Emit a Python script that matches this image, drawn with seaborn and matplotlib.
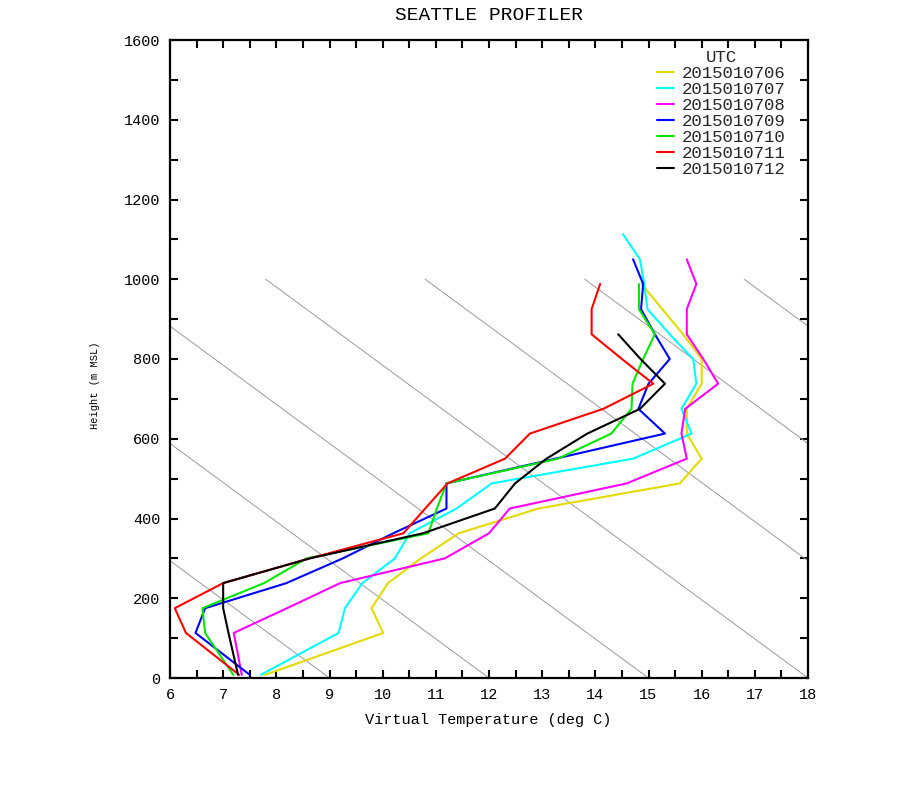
import numpy as np
import pandas as pd
import matplotlib
matplotlib.use("Agg")
import matplotlib.pyplot as plt
import seaborn as sns
from matplotlib.ticker import MultipleLocator

# ---- data ----
heights = [8, 113, 175, 238, 300, 363, 425, 488, 550, 613, 675, 738, 800,
           862, 925, 988, 1050, 1113]

utc_labels = ["2015010706", "2015010707", "2015010708", "2015010709",
              "2015010710", "2015010711", "2015010712"]

temp_06 = [7.79, 10.01, 9.79, 10.1, 10.72, 11.43, 12.93, 15.59, 16.0, 15.72,
           15.72, 16.0, 16.0, 15.65, 15.26, 14.87]
temp_07 = [7.71, 9.17, 9.29, 9.62, 10.23, 10.51, 11.39, 12.05, 14.71, 15.81,
           15.62, 15.9, 15.84, 15.4, 14.98, 14.92, 14.84, 14.52]
temp_08 = [7.35, 7.2, 8.2, 9.2, 11.17, 12.0, 12.39, 14.59, 15.72, 15.62,
           15.69, 16.31, 16.03, 15.72, 15.72, 15.9, 15.72]
temp_09 = [7.5, 6.48, 6.66, 8.19, 9.25, 10.2, 11.2, 11.2, 13.25, 15.31,
           14.81, 15.0, 15.4, 15.12, 14.86, 14.9, 14.71]
temp_10 = [7.19, 6.66, 6.61, 7.77, 8.57, 10.86, 11.02, 11.2, 13.3, 14.3,
           14.68, 14.7, 14.9, 15.12, 14.82, 14.82]
temp_11 = [7.3, 6.3, 6.09, 7.0, 8.63, 10.39, 10.8, 11.22, 12.3, 12.77,
           14.15, 15.09, 14.5, 13.93, 13.93, 14.09]
temp_12 = [7.28, 7.1, 7.0, 7.0, 8.63, 10.76, 12.11, 12.49, 13.08, 13.85,
           14.84, 15.31, 14.85, 14.43]

series_colors = ["#e3da00", "#00ffff", "#ff00ff", "#0000ff", "#00e600",
                 "#ff0000", "#000000"]

# background dry-adiabat guide lines
adiabat_T0 = [9, 12, 15, 18, 21, 24, 27]
adiabat_lapse = 10.2      # deg C per km
adiabat_top = 1000        # m

x_ticks = list(range(6, 19))
y_ticks = list(range(0, 1601, 200))

# ---- build long-form table ----
all_series = [temp_06, temp_07, temp_08, temp_09, temp_10, temp_11, temp_12]
rows = []
for lab, temps in zip(utc_labels, all_series):
    for z, t in zip(heights, temps):
        rows.append((lab, t, z))
df = pd.DataFrame(rows, columns=["utc", "temp", "height"])

sns.set_theme(style="ticks")
plt.rcParams["font.family"] = ["Liberation Mono", "DejaVu Sans Mono"]

fig = plt.figure(figsize=(9, 8), dpi=100)
fig.patch.set_facecolor("white")
ax = fig.add_axes([170 / 900, 122 / 800, 638 / 900, 638 / 800])

z_ad = np.array([0.0, adiabat_top])
for t0 in adiabat_T0:
    ax.plot(t0 - adiabat_lapse * z_ad / 1000.0, z_ad, color="#9a9a9a",
            lw=0.7, zorder=1)

sns.lineplot(data=df, x="temp", y="height", hue="utc", hue_order=utc_labels,
             palette=series_colors, sort=False, estimator=None, lw=1.5,
             ax=ax, zorder=3)

ax.set_xlim(6, 18)
ax.set_ylim(0, 1600)
ax.set_xticks(x_ticks)
ax.set_yticks(y_ticks)
ax.xaxis.set_minor_locator(MultipleLocator(0.5))
ax.yaxis.set_minor_locator(MultipleLocator(100))
ax.tick_params(which="both", direction="in", top=True, right=True,
               length=6, width=1.5, color="black", labelsize=11, pad=7,
               labelcolor="black")
for sp in ax.spines.values():
    sp.set_color("black")
    sp.set_linewidth(1.6)

ax.set_xlabel("Virtual Temperature (deg C)", fontsize=11, color="black")
ax.set_ylabel("Height (m MSL)", fontsize=7.5, color="black")
ax.xaxis.set_label_coords(0.498, -0.055)
ax.yaxis.set_label_coords(-0.109, 0.459)

handles, labels = ax.get_legend_handles_labels()
leg = ax.legend(handles, labels, title="UTC", frameon=False, loc="upper left",
                bbox_to_anchor=(0.763, 0.985), borderaxespad=0, borderpad=0,
                handlelength=1.0, handletextpad=0.45, labelspacing=0.05,
                fontsize=12.5, title_fontsize=12.5)

fig.text(489 / 900, 1 - 15 / 800, "SEATTLE PROFILER", ha="center",
         va="center", fontsize=14, color="black")

fig.savefig("out.png", dpi=100, facecolor="white")
